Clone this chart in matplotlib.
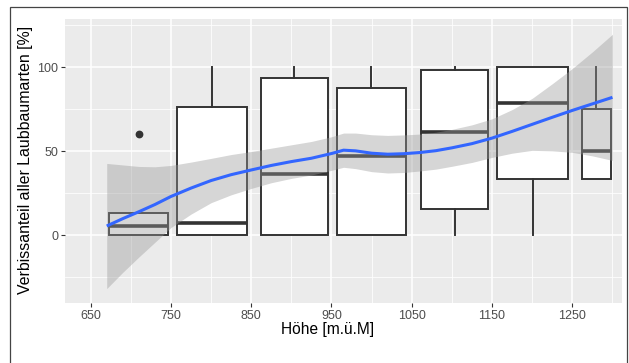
import numpy as np
import matplotlib
matplotlib.use("Agg")
import matplotlib.pyplot as plt
from matplotlib.patches import Rectangle

# =========================
# DATEN
# =========================
# Boxplots je Höhenklasse (Lage = Mitte der Klasse, Breite = 0.9 * Spannweite)
hoehe_box   = [710, 801, 903.5, 999.5, 1103.5, 1201, 1280]
breite_box  = [73.5, 87, 83.5, 86, 84, 88.5, 36]
whisker_lo  = [0, 0, 0, 0, 0, 0, 33.3]
quartil_1   = [0, 0, 0, 0, 15.7, 33.3, 33.3]
median      = [5.5, 7.3, 36.4, 47.1, 61.5, 78.5, 50]
quartil_3   = [13.3, 76.5, 93.8, 87.5, 98.4, 100, 75]
whisker_hi  = [13.3, 100, 100, 100, 100, 100, 100]
ausreisser  = [[60], [], [], [], [], [], []]

# Loess-Glättung mit Konfidenzband
hoehe_fit = [670, 690, 710, 730, 750, 775, 800, 825, 850, 875, 900, 925, 950,
             965, 980, 1000, 1020, 1040, 1060, 1080, 1100, 1125, 1150, 1175,
             1200, 1225, 1250, 1275, 1300]
verbiss_fit = [5.4, 9.8, 13.9, 18.2, 23.0, 28.0, 32.5, 36.0, 38.8, 41.5, 43.8,
               45.8, 48.6, 50.6, 50.2, 48.8, 48.2, 48.5, 49.2, 50.3, 52.0, 54.5,
               57.8, 61.8, 66.0, 70.2, 74.3, 78.2, 82.1]
halbbreite_ci = [37.3, 32, 27, 22.5, 18.5, 15.5, 13.2, 12, 11, 10.3, 10, 10, 10,
                 10.2, 10.6, 11, 11.2, 11.2, 11, 11, 11, 11.2, 11.5, 13, 15.5,
                 20, 25, 31, 37.6]

x_ticks = [650, 750, 850, 950, 1050, 1150, 1250]
y_ticks = [0, 50, 100]

# =========================
# FIGUR
# =========================
plt.rcParams["font.family"] = ["Liberation Sans", "DejaVu Sans"]

fig = plt.figure(figsize=(6.29, 3.63), dpi=100)
ax = fig.add_axes([65 / 629, 1 - 303 / 363, 557 / 629, 284 / 363])
ax.set_facecolor("#EBEBEB")
for s in ax.spines.values():
    s.set_visible(False)

ax.set_xlim(618.0, 1311.9)
ax.set_ylim(-40.5, 128.8)

# Gitternetz im ggplot-Stil
ax.set_xticks(x_ticks)
ax.set_xticks([700, 800, 900, 1000, 1100, 1200, 1300], minor=True)
ax.set_yticks(y_ticks)
ax.set_yticks([-25, 25, 75, 125], minor=True)
ax.grid(which="major", color="white", lw=1.1)
ax.grid(which="minor", color="white", lw=0.55)
ax.set_axisbelow(True)
ax.tick_params(which="minor", length=0)
ax.tick_params(which="major", length=2.8, width=0.8, color="#333333",
               labelcolor="#4D4D4D", labelsize=9, pad=2.0)

# Boxplots
stats = []
for i in range(len(hoehe_box)):
    stats.append({
        "med": median[i], "q1": quartil_1[i], "q3": quartil_3[i],
        "whislo": whisker_lo[i], "whishi": whisker_hi[i],
        "fliers": ausreisser[i],
    })
ax.bxp(stats, positions=hoehe_box, widths=breite_box, showcaps=False,
       patch_artist=True, manage_ticks=False,
       boxprops=dict(facecolor="white", edgecolor="#333333", lw=1.4),
       whiskerprops=dict(color="#333333", lw=1.4),
       medianprops=dict(color="#333333", lw=2.6, solid_capstyle="butt"),
       flierprops=dict(marker="o", markersize=4.6, markerfacecolor="#333333",
                       markeredgecolor="#333333"))

# Glättungslinie + Konfidenzband
x_fit = np.array(hoehe_fit)
y_fit = np.array(verbiss_fit)
hw = np.array(halbbreite_ci)
ax.fill_between(x_fit, y_fit - hw, y_fit + hw, color="#999999", alpha=0.4,
                lw=0, zorder=4)
ax.plot(x_fit, y_fit, color="#3366FF", lw=2.2, zorder=5,
        solid_capstyle="butt")

ax.set_xlabel("Höhe [m.ü.M]", fontsize=11.2, color="black")
ax.xaxis.set_label_coords((327.5 - 65) / 557, -(329.5 - 303) / 284)
ax.xaxis.label.set_va("center")
ax.set_ylabel("Verbissanteil aller Laubbaumarten [%]", fontsize=11.4,
              color="black")
ax.yaxis.set_label_coords(-(65 - 25.7) / 557, (303 - 160) / 284)
ax.yaxis.label.set_va("center")

# Rahmen um die Grafik
fig.patches.append(Rectangle((10 / 629, -0.05), 617 / 629, 1.05 - 7 / 363,
                             transform=fig.transFigure, fill=False,
                             edgecolor="#444444", lw=0.9, clip_on=False))

fig.savefig("out.png", dpi=100)
